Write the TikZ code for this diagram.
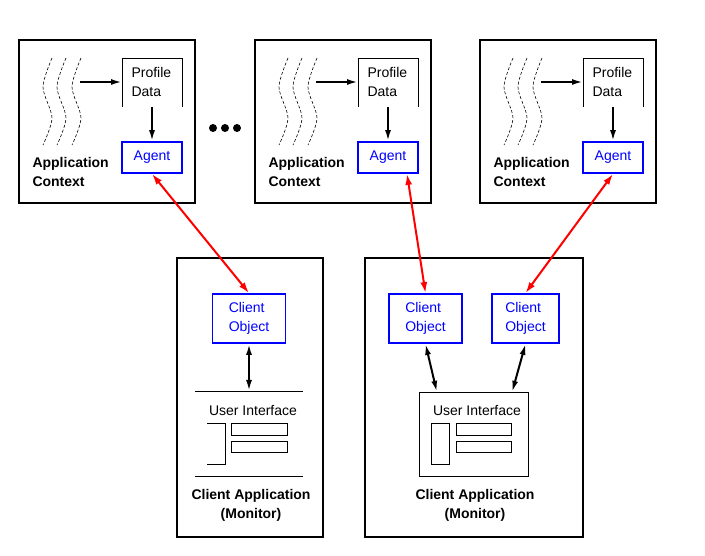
\documentclass[tikz,border=0pt]{standalone}
\usepackage{fontspec}
\setmainfont{Liberation Sans}
\usetikzlibrary{calc,shapes,arrows,arrows.meta}

\begin{document}
\begin{tikzpicture}[x=1pt,y=-1pt,
    every node/.style={font=\fontsize{14}{19}\selectfont},
    framebox/.style={draw,line width=2.5pt,inner sep=0pt},
    bluebox/.style={draw=blue,line width=1.8pt,text=blue,inner sep=0pt,align=left},
    link/.style={{Latex[length=11pt,width=7pt]}-{Latex[length=11pt,width=7pt]},red,line width=2pt},
    flow/.style={-{Latex[length=11pt,width=6pt]},line width=2pt},
    twoway/.style={{Latex[length=11pt,width=6pt]}-{Latex[length=11pt,width=6pt]},line width=2pt},
    thread/.style={line width=0.6pt,dash pattern=on 3pt off 2pt}]
        \useasboundingbox (0,0) rectangle (705,556);
        \foreach \dx/\i in {0/1,236/2,461/3} {
        \node[framebox,minimum width=176pt,minimum height=163pt] (ctx\i) at (107+\dx,121.5) {};
        \draw[thin] (122+\dx,107) -- (122+\dx,58) -- (182+\dx,58) -- (182+\dx,107);
        \node[anchor=west,align=left] (prof\i) at (128+\dx,82) {Profile\\Data};
        \node[bluebox,minimum width=60pt,minimum height=31pt] (agent\i) at (152+\dx,157.5) {Agent};
        \node[anchor=west,align=left,font=\fontsize{14}{19}\selectfont\bfseries] (appl\i) at (29+\dx,171.5) {Application\\Context};
        \coordinate (src\i) at (80+\dx,82);
        \coordinate (prof\i-in) at (122+\dx,82);
        \coordinate (prof\i-out) at (152+\dx,107);
        \draw[flow] (src\i) -- (prof\i-in);
        \draw[flow] (prof\i-out) -- (agent\i.north);
        \foreach \w in {0,14,29}
        \draw[thread] plot[smooth] coordinates {(52+\dx+\w,58) (43+\dx+\w,87) (52+\dx+\w,118) (43+\dx+\w,145)};
        }
        \foreach \x in {213,225,237}
        \fill (\x,128) circle (4);

        \node[framebox,minimum width=146pt,minimum height=279pt] (mon1) at (250,397.5) {};
        \node[bluebox,minimum width=73pt,minimum height=49pt] (client1) at (249,318.5) {Client\\Object};
        \draw[thin] (195,391) -- (303,391);
        \draw[thin] (195,476) -- (303,476);
        \coordinate (ui1) at (249,391);
        \node (uitext1) at (253,411) {User Interface};
        \draw[thin] (207,423) -- (225,423) -- (225,464) -- (207,464);
        \draw[thin] (231,423) rectangle (287,435);
        \draw[thin] (231,441) rectangle (287,452);
        \node[align=center,font=\fontsize{14}{19}\selectfont\bfseries] (name1) at (251,505.5) {Client Application\\(Monitor)};

        \node[framebox,minimum width=218pt,minimum height=279pt] (mon2) at (474,397.5) {};
        \node[bluebox,minimum width=73pt,minimum height=49pt] (client2) at (425.5,318.5) {Client\\Object};
        \node[bluebox,minimum width=67pt,minimum height=49pt] (client3) at (525.5,318.5) {Client\\Object};
        \node[draw,thin,minimum width=109pt,minimum height=84pt] (ui2) at (473.5,434) {};
        \node (uitext2) at (477,411) {User Interface};
        \draw[thin] (431,423) rectangle (449,464);
        \draw[thin] (456,423) rectangle (511,435);
        \draw[thin] (456,441) rectangle (511,452);
        \node[align=center,font=\fontsize{14}{19}\selectfont\bfseries] (name2) at (475,505.5) {Client Application\\(Monitor)};

        \draw[link] (agent1.south) -- (client1.north);
        \draw[link] ($(agent2.south)+(19,0)$) -- (client2.north);
        \draw[link] (agent3.south) -- (client3.north);
        \draw[twoway] (client1.south) -- (ui1);
        \draw[twoway] (client2.south) -- ($(ui2.north west)+(18,0)$);
        \draw[twoway] (client3.south) -- ($(ui2.north east)+(-16,0)$);
\end{tikzpicture}
\end{document}
